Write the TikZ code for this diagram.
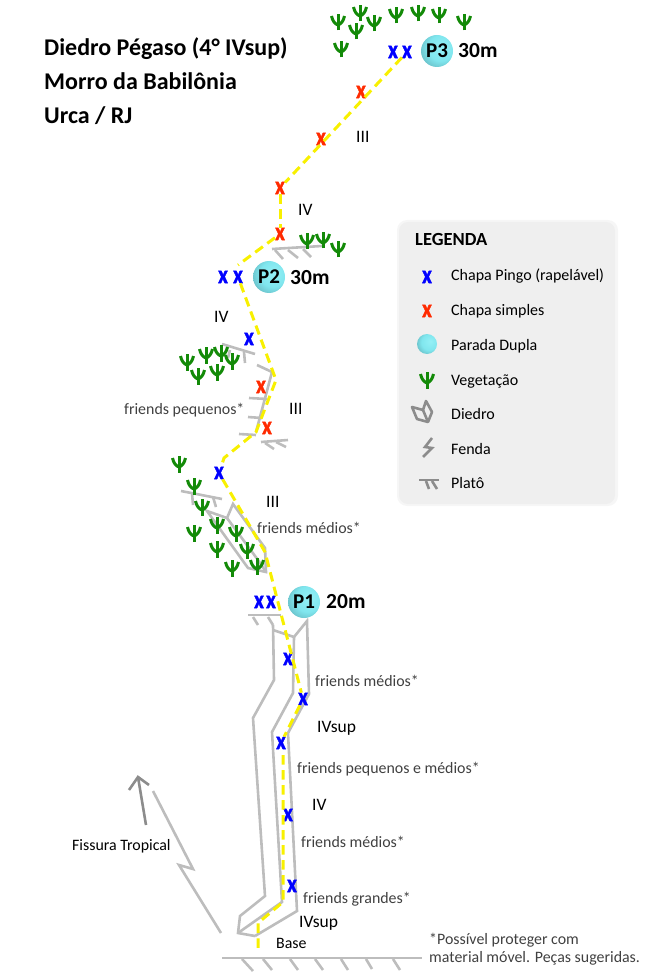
\documentclass[tikz,border=0pt]{standalone}
\usepackage{fontspec}
\setmainfont{Carlito}
\newfontfamily\boltfont[UprightFeatures={FakeBold=1.5},UprightFont={* Bold}]{Carlito}
\definecolor{rockg}{HTML}{BDBDBD}
\definecolor{darkg}{HTML}{8C8C8C}
\definecolor{routey}{HTML}{F8F000}
\definecolor{plantg}{HTML}{138A08}
\definecolor{boltb}{HTML}{0000FF}
\definecolor{boltr}{HTML}{FF2A00}
\definecolor{friendt}{HTML}{404040}
\definecolor{legbg}{HTML}{EFEFEF}
\definecolor{legsh}{HTML}{F6F6F6}
\definecolor{pa}{HTML}{94F0F6}
\definecolor{pb}{HTML}{80E6EE}
\definecolor{pc}{HTML}{6CC4CC}
\definecolor{pd}{HTML}{4F7F85}
\pgfdeclareradialshading{parada}{\pgfpoint{9bp}{7bp}}{color(0bp)=(pa);color(20bp)=(pb);color(31bp)=(pc);color(42bp)=(pd);color(60bp)=(pd)}
\tikzset{
  rock/.style={draw=rockg,line width=2.6pt,line join=miter},
  route/.style={draw=routey,line width=3pt,dash pattern=on 9.5pt off 5.5pt},
  xblue/.style={text=boltb,inner sep=0pt,font=\boltfont\fontsize{23}{23}\selectfont},
  xred/.style={text=boltr,inner sep=0pt,font=\boltfont\fontsize{23}{23}\selectfont},
  stop/.style={circle,minimum size=32pt,inner sep=0pt,shading=parada,font=\bfseries\fontsize{21}{21}\selectfont},
  dist/.style={anchor=mid west,inner sep=0pt,yshift=-4pt,font=\bfseries\fontsize{21.5}{21.5}\selectfont},
  ttl/.style={anchor=mid west,inner sep=0pt,yshift=-4.5pt,font=\bfseries\fontsize{24}{24}\selectfont},
  grade/.style={anchor=mid west,inner sep=0pt,yshift=-3pt,font=\fontsize{17.5}{17.5}\selectfont},
  friend/.style={anchor=mid west,inner sep=0pt,yshift=-3pt,text=friendt,font=\fontsize{15.9}{15.9}\selectfont},
  leg/.style={anchor=mid west,inner sep=0pt,yshift=-3pt,font=\fontsize{16}{16}\selectfont},
  plant/.pic={
    \draw[plantg,line width=3pt] (0,8.5) -- (0,-8);
    \draw[plantg,line width=3pt] (0,3) .. controls (-3,2) and (-5.5,-1) .. (-6.5,-6);
    \draw[plantg,line width=3pt] (0,3) .. controls (3,2) and (5.5,-1) .. (6.5,-6);
  }
}
\newcommand{\boltmark}{\scalebox{0.92}[1.1]{x}}
\begin{document}
\begin{tikzpicture}[x=1pt,y=-1pt]
\useasboundingbox (0,0) rectangle (647,973);

% legend panel
\path[fill=legsh,rounded corners=10pt] (397,220) rectangle (618,506);
\path[fill=legbg,rounded corners=9pt] (399,222) rectangle (615,504);

% rock features
\draw[rock] (272,249) -- (322,246);
\draw[rock] (275,250) -- (283,259);
\draw[rock] (288,250) -- (298,258);
\draw[rock] (303,249) -- (311,257);

\draw[rock] (222,344) -- (255,354);
\draw[rock] (230,350) -- (228,358);
\draw[rock] (244,352) -- (245,363);
\draw[rock] (257,365) -- (272,372) -- (256,432);
\draw[rock] (249,398) -- (267,399);
\draw[rock] (248,417) -- (262,418);
\draw[rock] (239,434) -- (256,435);
\draw[rock] (261,442) -- (288,440);
\draw[rock] (265,443) -- (274,449);
\draw[rock] (276,442) -- (286,447);

\draw[rock] (181,491) -- (222,499);
\draw[rock] (192,493) -- (193,505);
\draw[rock] (213,497) -- (216,507);
\draw[rock] (207,511) -- (227,518) -- (233,504) -- (265,548) -- (266,572) -- (248,568) -- cycle;
\draw[rock] (227,518) -- (258,560) -- (266,572);

\draw[rock] (248,615) -- (281,615);
\draw[rock] (253,617) -- (258,625);
\draw[rock] (268,617) -- (273,625);
\draw[rock] (273,625) -- (274,680) -- (253,718) -- (265,896) -- (240,916) -- (238,933) -- (255,936);
\draw[rock] (273,630) -- (294,637) -- (293,693) -- (272,732) -- (282,902) -- (238,933);
\draw[rock] (294,637) -- (307,621) -- (309,694) -- (288,733) -- (297,911) -- (255,936);

\draw[rock] (153,791) -- (193,869) -- (179,865) -- (221,933);
\draw[draw=darkg,line width=2.6pt] (146,825) -- (138,777);
\draw[draw=darkg,line width=2.6pt] (129,790) -- (138,777) -- (149,785);

\draw[rock] (222,958) -- (422,958);
\draw[rock] (242,959) -- (253,971);
\draw[rock] (263,959) -- (272,970);
\draw[rock] (290,959) -- (298,970);
\draw[rock] (315,959) -- (323,970);
\draw[rock] (341,959) -- (348,970);
\draw[rock] (366,959) -- (372,969);
\draw[rock] (393,959) -- (400,970);

% vegetation
\foreach \px/\py in {338/22,360/13,374/23,356/31,341/49,396/15,418/13,439/15,464/22,
  307/241,323/240,338/249,
  187/362,206/355,221/353,232/361,198/376,217/372,
  179/464,194/486,202/507,194/533,217/525,236/533,217/549,247/550,232/568,257/566,
  427/380}
  \pic at (\px,\py) {plant};

% bolts
\node[xblue] (b1) at (393,52) {\boltmark};
\node[xblue] (b2) at (407,52) {\boltmark};
\node[xred] (r1) at (361,92) {\boltmark};
\node[xred] (r2) at (321,139) {\boltmark};
\node[xred] (r3) at (280,188) {\boltmark};
\node[xred] (r4) at (280,234) {\boltmark};
\node[xblue] (b3) at (223,277) {\boltmark};
\node[xblue] (b4) at (238,277) {\boltmark};
\node[xblue] (b5) at (249,339) {\boltmark};
\node[xred] (r5) at (261,387) {\boltmark};
\node[xred] (r6) at (267,428) {\boltmark};
\node[xblue] (b6) at (219,473) {\boltmark};
\node[xblue] (b7) at (259,602) {\boltmark};
\node[xblue] (b8) at (271,602) {\boltmark};
\node[xblue] (b9) at (288,659) {\boltmark};
\node[xblue] (b10) at (303,699) {\boltmark};
\node[xblue] (b11) at (281,743) {\boltmark};
\node[xblue] (b12) at (288,815) {\boltmark};
\node[xblue] (b13) at (292,886) {\boltmark};

% route
\coordinate (w1) at (238,265);
\coordinate (w2) at (276,380);
\coordinate (w3) at (256,432);
\coordinate (w4) at (224,458);
\coordinate (w5) at (265,552);
\coordinate (w6) at (283,755);
\coordinate (w7) at (283,902);
\coordinate (w8) at (258,923);
\coordinate (w9) at (258,953);
\draw[route] (b2) -- (r3);
\draw[route] (r3) -- (r4);
\draw[route] (r4) -- (w1);
\draw[route] (b4) -- (w2) -- (w3) -- (w4) -- (b6);
\draw[route] (b6) -- (w5) -- (b10);
\draw[route] (b10) -- (b11);
\draw[route] (w6) -- (w7) -- (w8) -- (w9);

% stops
\node[stop] (p3) at (437,51) {P3};
\node[stop] (p2) at (269,277) {P2};
\node[stop] (p1) at (304,602) {P1};
\node[dist] (d3) at (458,51) {30m};
\node[dist] (d2) at (290,278) {30m};
\node[dist] (d1) at (326,602) {20m};

% title
\node[ttl] (t1) at (44,49) {Diedro Pégaso (4° IVsup)};
\node[ttl] (t2) at (44,83) {Morro da Babilônia};
\node[ttl] (t3) at (44,117) {Urca / RJ};

% grades
\node[grade] (g1) at (356,137) {III};
\node[grade] (g2) at (298,210) {IV};
\node[grade] (g3) at (214,317) {IV};
\node[grade] (g4) at (289,409) {III};
\node[grade] (g5) at (266,502) {III};
\node[grade] (g6) at (317,727) {IVsup};
\node[grade] (g7) at (312,805) {IV};
\node[grade] (g8) at (299,922) {IVsup};
\node[friend,text=black] (base) at (276,943) {Base};
\node[friend,text=black] (fiss) at (72,845) {Fissura Tropical};

% gear notes
\node[friend] (f1) at (124,409) {friends pequenos*};
\node[friend] (f2) at (257,528) {friends médios*};
\node[friend] (f3) at (315,681) {friends médios*};
\node[friend] (f4) at (297,768) {friends pequenos e médios*};
\node[friend] (f5) at (301,842) {friends médios*};
\node[friend] (f6) at (303,898) {friends grandes*};
\node[friend] (n1) at (429,939) {*Possível proteger com};
\node[friend] (n2) at (429,957) {material móvel. Peças sugeridas.};

% legend content
\node[anchor=mid west,inner sep=0pt,yshift=-3pt,font=\bfseries\fontsize{18.5}{18.5}\selectfont] (lt) at (415,240) {LEGENDA};
\node[xblue] (lb) at (427,277) {\boltmark};
\node[xred] (lr) at (427,311) {\boltmark};
\node[circle,minimum size=20pt,inner sep=0pt,shading=parada] (ls) at (427,344) {};
\draw[draw=darkg,line width=2.6pt,line join=round] (412,407) -- (417,419) -- (428,422) -- (432,412) -- (426,401) -- (423,410) -- cycle;
\draw[draw=darkg,line width=2.6pt,line join=round] (423,410) -- (428,422);
\draw[draw=darkg,line width=2.6pt] (432,438) -- (425,447) -- (432,448) -- (423,457);
\draw[draw=darkg,line width=2.6pt] (419,480) -- (439,480);
\draw[draw=darkg,line width=2.6pt] (426,481) -- (429,489);
\draw[draw=darkg,line width=2.6pt] (432,481) -- (437,489);
\node[leg] (l1) at (451,275) {Chapa Pingo (rapelável)};
\node[leg] (l2) at (451,310) {Chapa simples};
\node[leg] (l3) at (451,345) {Parada Dupla};
\node[leg] (l4) at (451,380) {Vegetação};
\node[leg] (l5) at (451,414) {Diedro};
\node[leg] (l6) at (451,449) {Fenda};
\node[leg] (l7) at (451,483) {Platô};
\end{tikzpicture}
\end{document}
